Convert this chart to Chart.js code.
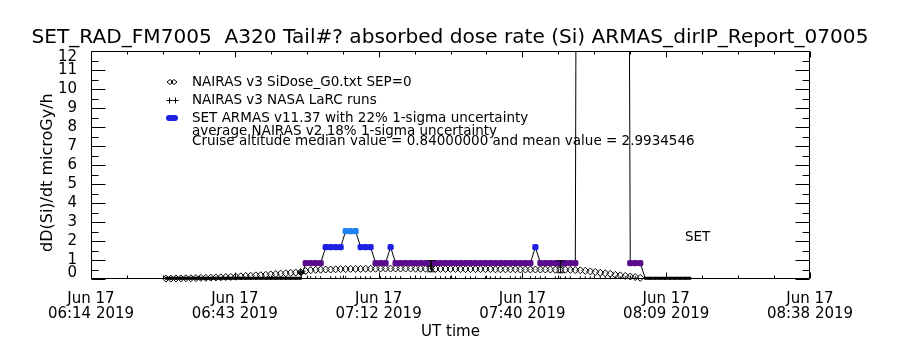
<!DOCTYPE html>
<html>
<head>
<meta charset="utf-8">
<script src="https://cdn.jsdelivr.net/npm/chart.js@4.4.0/dist/chart.umd.min.js"></script>
<style>
  html, body { margin: 0; padding: 0; background: #fff; }
</style>
</head>
<body>
<canvas id="doseChart" width="900" height="350"></canvas>
<script>
// x values are minutes after 06:14 UT, 17 Jun 2019
var tickMinutes = [0, 28.8, 57.6, 86.4, 115.2, 144];
var tickLabels = [
    ['Jun 17', '06:14 2019'],
    ['Jun 17', '06:43 2019'],
    ['Jun 17', '07:12 2019'],
    ['Jun 17', '07:40 2019'],
    ['Jun 17', '08:09 2019'],
    ['Jun 17', '08:38 2019']
];

// NAIRAS v3 SiDose_G0 (diamonds)
var nairasTime = [
    15, 16, 17, 18, 19, 20, 21, 22, 23, 24,
    25, 26, 27, 28, 29, 30, 31, 32, 33, 34,
    35, 36, 37, 38, 39, 40, 41, 42, 43, 44,
    45, 46, 47, 48, 49, 50, 51, 52, 53, 54,
    55, 56, 57, 58, 59, 60, 61, 62, 63, 64,
    65, 66, 67, 68, 69, 70, 71, 72, 73, 74,
    75, 76, 77, 78, 79, 80, 81, 82, 83, 84,
    85, 86, 87, 88, 89, 90, 91, 92, 93, 94,
    95, 96, 97, 98, 99, 100, 101, 102, 103, 104,
    105, 106, 107, 108, 109, 110
];
var nairasDose = [
    0.02, 0.02, 0.03, 0.03, 0.04, 0.04, 0.05, 0.06, 0.06, 0.07,
    0.08, 0.09, 0.10, 0.11, 0.12, 0.14, 0.16, 0.17, 0.19, 0.20,
    0.22, 0.24, 0.26, 0.28, 0.30, 0.32, 0.34, 0.36, 0.42, 0.46,
    0.48, 0.49, 0.50, 0.50, 0.51, 0.52, 0.52, 0.53, 0.53, 0.53,
    0.54, 0.54, 0.54, 0.55, 0.55, 0.55, 0.55, 0.55, 0.55, 0.55,
    0.54, 0.54, 0.54, 0.54, 0.53, 0.53, 0.53, 0.53, 0.53, 0.52,
    0.52, 0.52, 0.52, 0.52, 0.52, 0.52, 0.51, 0.51, 0.51, 0.51,
    0.51, 0.50, 0.50, 0.50, 0.50, 0.50, 0.50, 0.50, 0.49, 0.49,
    0.49, 0.48, 0.47, 0.46, 0.43, 0.40, 0.37, 0.33, 0.30, 0.27,
    0.22, 0.19, 0.16, 0.13, 0.10, 0.06
];

// NAIRAS v3 NASA LaRC runs
var larcTime = [42, 68, 94];
var larcDose = [0.35, 0.67, 0.64];
var larcErr = [0.06, 0.29, 0.31];

// SET ARMAS v11.37
var setTime = [
    15, 16, 17, 18, 19, 20, 21, 22, 23, 24,
    25, 26, 27, 28, 29, 30, 31, 32, 33, 34,
    35, 36, 37, 38, 39, 40, 41, 42, 43, 44,
    45, 46, 47, 48, 49, 50, 51, 52, 53, 54,
    55, 56, 57, 58, 59, 60, 61, 62, 63, 64,
    65, 66, 67, 68, 69, 70, 71, 72, 73, 74,
    75, 76, 77, 78, 79, 80, 81, 82, 83, 84,
    85, 86, 87, 88, 89, 90, 91, 92, 93, 94,
    95, 96, 97, 97.3, 107.6, 108, 109, 110, 111, 112,
    113, 114, 115, 116, 117, 118, 119, 120
];
var setDose = [
    0.04, 0.04, 0.04, 0.04, 0.04, 0.04, 0.04, 0.04, 0.04, 0.04,
    0.04, 0.04, 0.04, 0.04, 0.04, 0.04, 0.04, 0.04, 0.04, 0.04,
    0.04, 0.04, 0.04, 0.04, 0.04, 0.04, 0.04, 0.04, 0.84, 0.84,
    0.84, 0.84, 1.68, 1.68, 1.68, 1.68, 2.52, 2.52, 2.52, 1.68,
    1.68, 1.68, 0.84, 0.84, 0.84, 1.68, 0.84, 0.84, 0.84, 0.84,
    0.84, 0.84, 0.84, 0.84, 0.84, 0.84, 0.84, 0.84, 0.84, 0.84,
    0.84, 0.84, 0.84, 0.84, 0.84, 0.84, 0.84, 0.84, 0.84, 0.84,
    0.84, 0.84, 0.84, 0.84, 1.68, 0.84, 0.84, 0.84, 0.84, 0.84,
    0.84, 0.84, 0.84, 30, 30, 0.84, 0.84, 0.84, 0.04, 0.04,
    0.04, 0.04, 0.04, 0.04, 0.04, 0.04, 0.04, 0.04
];

// short marks along the axis during the cruise part of the flight
var flagTime = [
    44, 45, 46, 48, 49, 50, 51, 53, 54, 55, 56, 58, 59, 60, 61, 62,
    64, 65, 66, 67, 69, 70, 71, 72, 73, 75, 76, 77, 79, 80, 81, 82,
    84, 85, 86, 88, 89, 90, 91, 93, 94, 95, 96, 98, 99, 100, 102, 103,
    104, 105, 106, 107, 108, 109
];
var flagDose = [
    0.07, 0.07, 0.07, 0.07, 0.07, 0.07, 0.07, 0.07, 0.07, 0.07, 0.07, 0.07, 0.07, 0.07, 0.07, 0.07,
    0.07, 0.07, 0.07, 0.07, 0.07, 0.07, 0.07, 0.07, 0.07, 0.07, 0.07, 0.07, 0.07, 0.07, 0.07, 0.07,
    0.07, 0.07, 0.07, 0.07, 0.07, 0.07, 0.07, 0.07, 0.07, 0.07, 0.07, 0.07, 0.07, 0.07, 0.07, 0.07,
    0.07, 0.07, 0.07, 0.07, 0.07, 0.07
];

var legendLines = [
    'NAIRAS v3 SiDose_G0.txt SEP=0',
    'NAIRAS v3 NASA LaRC runs',
    'SET ARMAS v11.37 with 22% 1-sigma uncertainty',
    'average NAIRAS v2 18% 1-sigma uncertainty',
    'Cruise altitude median value = 0.84000000 and mean value = 2.9934546'
];

function pairs(xs, ys) {
    return xs.map(function(x, i) { return { x: x, y: ys[i] }; });
}

function setColor(v) {
    if (v < 0.4) return '#000000';
    if (v < 1.2) return '#5a0a8c';
    if (v < 2.0) return '#2020e0';
    return '#1c82f0';
}

var FONT = '"DejaVu Sans", sans-serif';

// IDL style frame: box with inward ticks on all four sides
var idlFrame = {
    id: 'idlFrame',
    afterDatasetsDraw: function(chart) {
        var ctx = chart.ctx, a = chart.chartArea;
        var xs = chart.scales.x, ys = chart.scales.y;
        var L = Math.round(a.left) + 0.5, R = Math.round(a.right) - 0.5;
        var T = Math.round(a.top) + 0.5, B = Math.round(a.bottom) - 0.5;
        ctx.save();
        ctx.strokeStyle = '#000';
        ctx.lineWidth = 1;
        ctx.beginPath();
        ctx.rect(L, T, R - L, B - T);
        for (var k = 0; k <= 20; k++) {
            var px = Math.round(xs.getPixelForValue(k * 7.2)) + 0.5;
            var len = (k % 4 === 0) ? 6 : 3;
            ctx.moveTo(px, B); ctx.lineTo(px, B - len);
            ctx.moveTo(px, T); ctx.lineTo(px, T + len);
        }
        for (var j = 0; j <= 24; j++) {
            var py = Math.round(ys.getPixelForValue(j * 0.5)) + 0.5;
            var ylen = (j % 2 === 0) ? 14 : 7;
            ctx.moveTo(L, py); ctx.lineTo(L + ylen, py);
            ctx.moveTo(R, py); ctx.lineTo(R - ylen, py);
        }
        ctx.stroke();

        // error bars on LaRC runs
        ctx.beginPath();
        larcTime.forEach(function(t, i) {
            var x = Math.round(xs.getPixelForValue(t)) + 0.5;
            var y1 = ys.getPixelForValue(larcDose[i] + larcErr[i]);
            var y2 = ys.getPixelForValue(larcDose[i] - larcErr[i]);
            ctx.moveTo(x, y1); ctx.lineTo(x, y2);
            ctx.moveTo(x - 4, y1); ctx.lineTo(x + 4, y1);
            ctx.moveTo(x - 4, y2); ctx.lineTo(x + 4, y2);
        });
        ctx.stroke();
        ctx.restore();
    },
    afterDraw: function(chart) {
        var ctx = chart.ctx, a = chart.chartArea;
        var lx = a.left + 81, tx = a.left + 101;
        var rows = [a.top + 31, a.top + 49, a.top + 67, a.top + 80, a.top + 90];
        ctx.save();
        ctx.fillStyle = '#000';
        ctx.strokeStyle = '#000';
        ctx.lineWidth = 1;
        ctx.font = '13.5px ' + FONT;
        ctx.textBaseline = 'middle';
        legendLines.forEach(function(s, i) { ctx.fillText(s, tx, rows[i]); });
        // symbols
        ctx.beginPath();
        [-2, 2].forEach(function(d) {
            var cx = lx + d, cy = rows[0];
            ctx.moveTo(cx - 3, cy); ctx.lineTo(cx, cy - 2.5); ctx.lineTo(cx + 3, cy);
            ctx.lineTo(cx, cy + 2.5); ctx.closePath();
        });
        [-3, 3].forEach(function(d) {
            var cx = Math.round(lx + d) + 0.5, cy = Math.round(rows[1]) + 0.5;
            ctx.moveTo(cx, cy - 3); ctx.lineTo(cx, cy + 3);
            ctx.moveTo(cx - 3, cy); ctx.lineTo(cx + 3, cy);
        });
        ctx.stroke();
        ctx.fillStyle = '#2020e0';
        ctx.beginPath();
        ctx.arc(lx - 3, rows[2], 3, 0, Math.PI * 2);
        ctx.arc(lx + 3, rows[2], 3, 0, Math.PI * 2);
        ctx.rect(lx - 3, rows[2] - 3, 6, 6);
        ctx.fill();
        ctx.fillStyle = '#000';
        ctx.fillText('SET', a.left + 594, a.top + 186);
        ctx.restore();
    }
};

var ctx = document.getElementById('doseChart').getContext('2d');
Chart.defaults.color = '#000';
Chart.defaults.font.family = FONT;

var doseChart = new Chart(ctx, {
    type: 'scatter',
    data: {
        datasets: [{
            label: 'NAIRAS v3 NASA LaRC runs',
            data: pairs(larcTime, larcDose),
            pointStyle: 'cross',
            pointRadius: 3.5,
            borderColor: '#000',
            borderWidth: 1,
            showLine: false
        }, {
            label: 'SET ARMAS v11.37',
            data: pairs(setTime, setDose),
            showLine: true,
            borderColor: '#000',
            borderWidth: 1,
            segment: {
                borderWidth: function(c) {
                    return (c.p0.parsed.y < 0.4 && c.p1.parsed.y < 0.4) ? 3 : 1;
                }
            },
            pointStyle: function(c) { return c.raw && c.raw.y < 0.4 ? 'circle' : 'rectRounded'; },
            pointRadius: function(c) { return c.raw && c.raw.y < 0.4 ? 1.5 : 3.6; },
            pointBorderWidth: 0,
            pointBackgroundColor: function(c) { return c.raw ? setColor(c.raw.y) : '#000'; },
            clip: { left: false, top: 0, right: false, bottom: false }
        }, {
            label: 'NAIRAS v3 SiDose_G0.txt SEP=0',
            data: pairs(nairasTime, nairasDose),
            showLine: false,
            pointStyle: 'rectRot',
            pointRadius: 3.5,
            borderColor: '#000',
            backgroundColor: 'rgba(0,0,0,0)',
            borderWidth: 1,
            clip: false
        }, {
            label: 'cruise',
            data: pairs(flagTime, flagDose),
            showLine: false,
            pointStyle: 'line',
            rotation: 90,
            pointRadius: 1.5,
            borderColor: '#000',
            borderWidth: 1,
            clip: false
        }]
    },
    options: {
        responsive: false,
        animation: false,
        devicePixelRatio: 1,
        layout: { padding: 0 },
        plugins: {
            legend: { display: false },
            tooltip: { enabled: false },
            title: {
                display: true,
                text: 'SET_RAD_FM7005  A320 Tail#? absorbed dose rate (Si) ARMAS_dirIP_Report_07005',
                font: { size: 20.1, weight: 'normal' },
                color: '#000',
                padding: { top: 26, bottom: 0.9 }
            }
        },
        scales: {
            x: {
                type: 'linear',
                min: 0,
                max: 144,
                afterBuildTicks: function(scale) {
                    scale.ticks = tickMinutes.map(function(v) { return { value: v }; });
                },
                afterFit: function(scale) { scale.height = 71; },
                ticks: {
                    autoSkip: false,
                    maxRotation: 0,
                    padding: 5,
                    font: { size: 15, lineHeight: 1.0 },
                    callback: function(v, i) { return tickLabels[i]; }
                },
                grid: { display: false },
                border: { display: false },
                title: {
                    display: true,
                    text: 'UT time',
                    font: { size: 15 },
                    padding: { top: 0, bottom: 9 }
                }
            },
            y: {
                min: 0,
                max: 12,
                afterFit: function(scale) { scale.width = 91; },
                ticks: {
                    stepSize: 1,
                    autoSkip: false,
                    padding: 6,
                    font: { size: 15, lineHeight: 0.75 },
                    // end labels sit a little inside the box, as in the original plot
                    callback: function(v) {
                        if (v === 12) return ['', '12'];
                        if (v === 0) return ['0', ''];
                        return String(v);
                    }
                },
                grid: { display: false },
                border: { display: false },
                title: {
                    display: true,
                    text: 'dD(Si)/dt microGy/h   ',
                    font: { size: 16 },
                    padding: { top: 38, bottom: 0 }
                }
            },
            yRight: {
                position: 'right',
                min: 0,
                max: 12,
                afterFit: function(scale) { scale.width = 90; },
                ticks: { display: false },
                grid: { display: false },
                border: { display: false }
            }
        }
    },
    plugins: [idlFrame]
});
</script>
</body>
</html>
